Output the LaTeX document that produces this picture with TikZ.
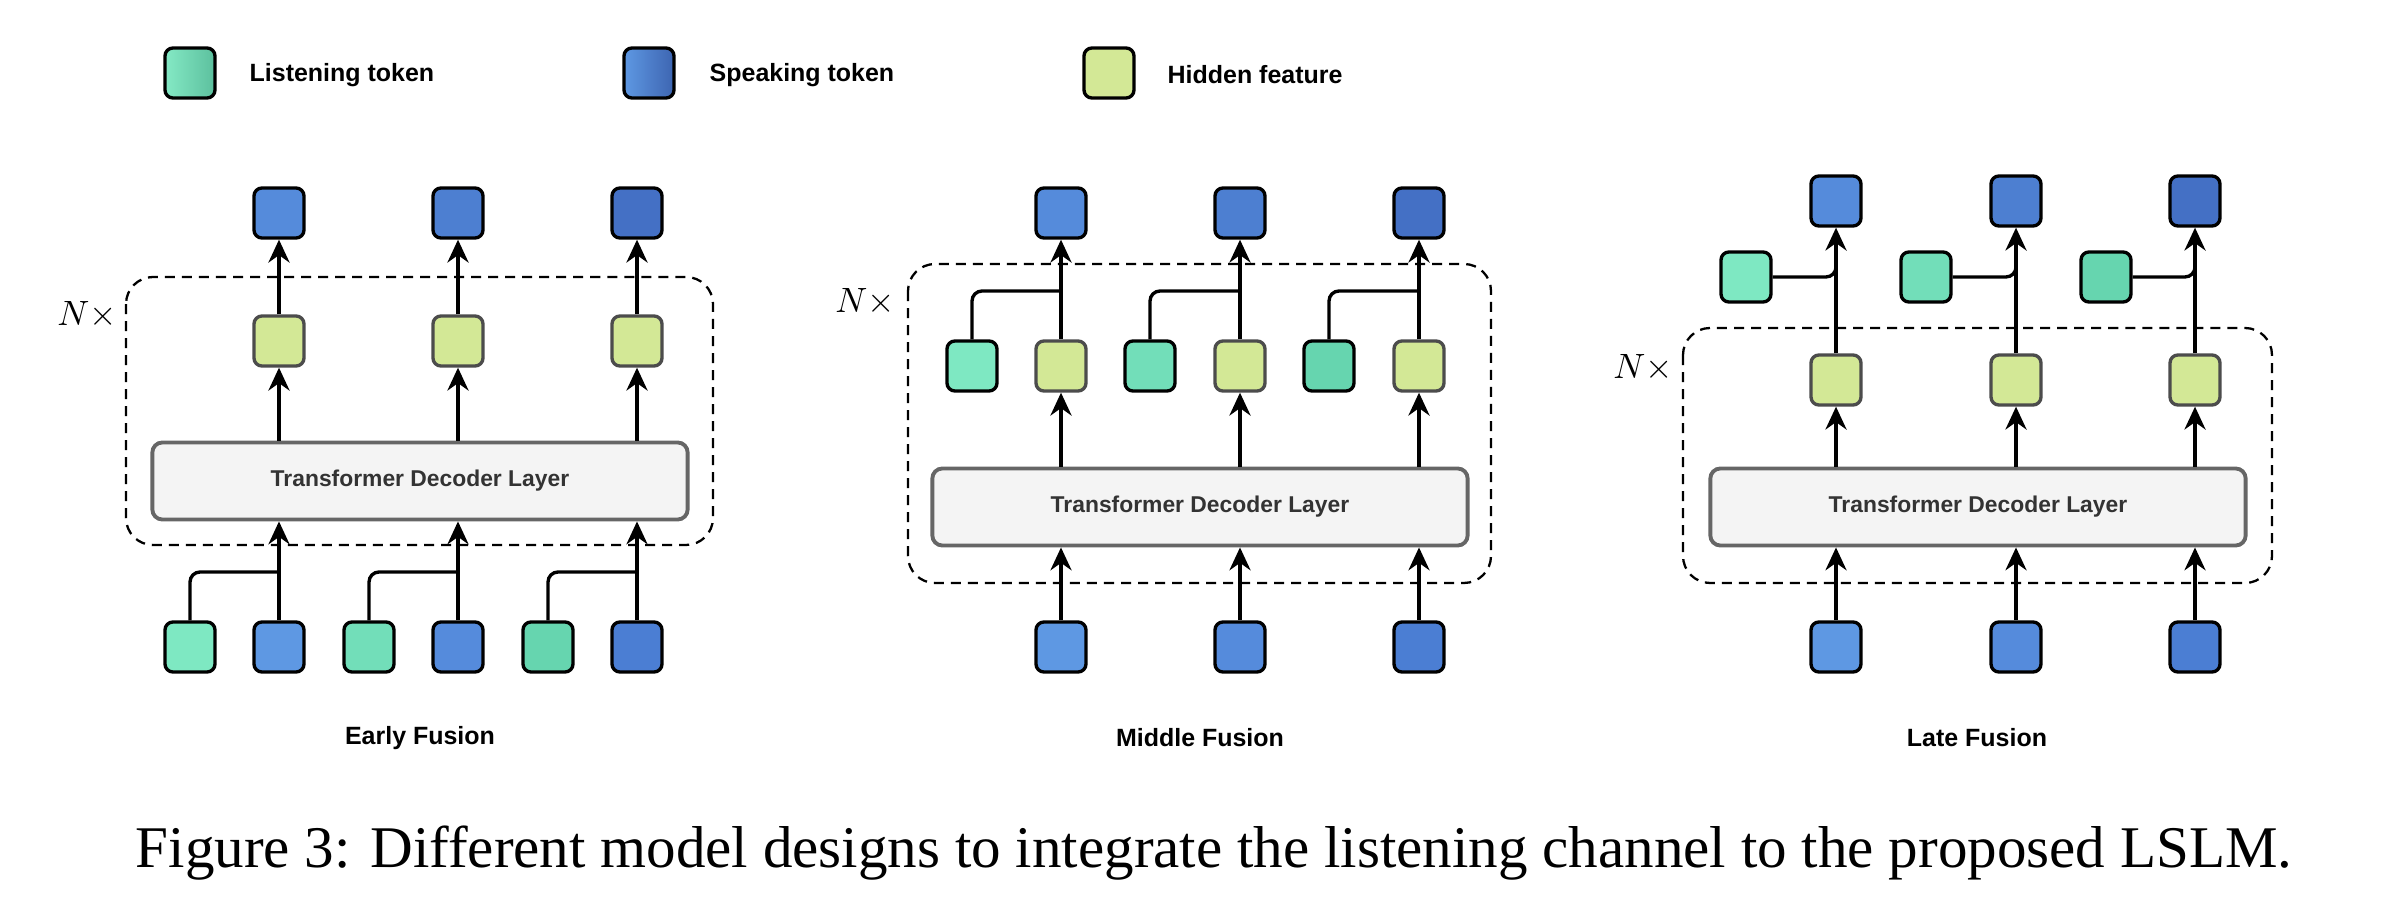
\documentclass[tikz,border=0pt]{standalone}
\usepackage{fontspec}
\setmainfont{Liberation Serif}
\setsansfont{Liberation Sans}
\usepackage{tikz}
\usetikzlibrary{arrows.meta}

\definecolor{listenA}{HTML}{7EE8C2}
\definecolor{listenB}{HTML}{72DEB9}
\definecolor{listenC}{HTML}{66D5AF}
\definecolor{speakA}{HTML}{5E98E3}
\definecolor{speakB}{HTML}{558BDC}
\definecolor{speakC}{HTML}{4B7ED3}
\definecolor{outA}{HTML}{558BDB}
\definecolor{outB}{HTML}{4D7FD1}
\definecolor{outC}{HTML}{4470C5}
\definecolor{hidden}{HTML}{D3E896}
\definecolor{layerfill}{HTML}{F4F4F4}
\definecolor{layerdraw}{HTML}{666666}

\begin{document}
\begin{tikzpicture}[x=0.01cm, y=-0.01cm,
    tok/.style={draw, line width=0.95pt, rounded corners=0.08cm, minimum width=0.5cm, minimum height=0.5cm, inner sep=0pt},
    hid/.style={tok, fill=hidden, draw=black!70},
    layer/.style={draw=layerdraw, fill=layerfill, line width=1.1pt, rounded corners=0.1cm, minimum width=5.35cm, minimum height=0.77cm, inner sep=0pt, text=black!80, font=\sffamily\bfseries\fontsize{6.5}{8}\selectfont},
    wire/.style={line width=0.95pt},
    arr/.style={wire, -{Stealth[length=6.5pt, width=6pt]}},
    rep/.style={dash pattern=on 0.1cm off 0.07cm, line width=0.65pt, rounded corners=0.27cm},
    lbl/.style={inner sep=0pt, font=\sffamily\bfseries\fontsize{7.1}{8}\selectfont},
    times/.style={font=\fontsize{10.4}{12}\selectfont}]

    \useasboundingbox (0,0) rectangle (2396,916);

    % legend
    \node[tok, left color=listenA!95!white, right color=listenC!90!black] (keyL) at (190,73) {};
    \node[lbl, anchor=west] (keyLtext) at (249,75) {Listening token};
    \node[tok, left color=speakA, right color=outC!90!black] (keyS) at (649,73) {};
    \node[lbl, anchor=west] (keyStext) at (709,75) {Speaking token};
    \node[tok, fill=hidden] (keyH) at (1109,73) {};
    \node[lbl, anchor=west] (keyHtext) at (1167,75) {Hidden feature};

    % early fusion
    \draw[rep] (126,277) rectangle (713,545);
    \node[times] (eN) at (87,315) {$N\times$};
    \node[tok, fill=outA] (eO1) at (279,213) {};
    \node[tok, fill=outB] (eO2) at (458,213) {};
    \node[tok, fill=outC] (eO3) at (637,213) {};
    \node[hid] (eH1) at (279,341) {};
    \node[hid] (eH2) at (458,341) {};
    \node[hid] (eH3) at (637,341) {};
    \node[layer] (eT) at (420,481) {Transformer Decoder Layer};
    \node[tok, fill=listenA] (eL1) at (190,647) {};
    \node[tok, fill=speakA] (eS1) at (279,647) {};
    \node[tok, fill=listenB] (eL2) at (369,647) {};
    \node[tok, fill=speakB] (eS2) at (458,647) {};
    \node[tok, fill=listenC] (eL3) at (548,647) {};
    \node[tok, fill=speakC] (eS3) at (637,647) {};
    \coordinate (eJ1) at (279,572);
    \coordinate (eJ2) at (458,572);
    \coordinate (eJ3) at (637,572);

    \draw[arr] (eS1.north) -- (eS1 |- eT.south);
    \draw[arr] (eS2.north) -- (eS2 |- eT.south);
    \draw[arr] (eS3.north) -- (eS3 |- eT.south);
    \draw[wire, rounded corners=0.1cm] (eL1.north) |- (eJ1);
    \draw[wire, rounded corners=0.1cm] (eL2.north) |- (eJ2);
    \draw[wire, rounded corners=0.1cm] (eL3.north) |- (eJ3);
    \draw[arr] (eH1 |- eT.north) -- (eH1.south);
    \draw[arr] (eH2 |- eT.north) -- (eH2.south);
    \draw[arr] (eH3 |- eT.north) -- (eH3.south);
    \draw[arr] (eH1.north) -- (eO1.south);
    \draw[arr] (eH2.north) -- (eO2.south);
    \draw[arr] (eH3.north) -- (eO3.south);
    \node[lbl] (eName) at (420,738) {Early Fusion};

    % middle fusion
    \draw[rep] (908,264) rectangle (1491,583);
    \node[times] (mN) at (865,302) {$N\times$};
    \node[tok, fill=outA] (mO1) at (1061,213) {};
    \node[tok, fill=outB] (mO2) at (1240,213) {};
    \node[tok, fill=outC] (mO3) at (1419,213) {};
    \node[tok, fill=listenA] (mL1) at (972,366) {};
    \node[hid] (mH1) at (1061,366) {};
    \node[tok, fill=listenB] (mL2) at (1150,366) {};
    \node[hid] (mH2) at (1240,366) {};
    \node[tok, fill=listenC] (mL3) at (1329,366) {};
    \node[hid] (mH3) at (1419,366) {};
    \node[layer] (mT) at (1200,507) {Transformer Decoder Layer};
    \node[tok, fill=speakA] (mS1) at (1061,647) {};
    \node[tok, fill=speakB] (mS2) at (1240,647) {};
    \node[tok, fill=speakC] (mS3) at (1419,647) {};
    \coordinate (mJ1) at (1061,291);
    \coordinate (mJ2) at (1240,291);
    \coordinate (mJ3) at (1419,291);

    \draw[arr] (mS1.north) -- (mS1 |- mT.south);
    \draw[arr] (mS2.north) -- (mS2 |- mT.south);
    \draw[arr] (mS3.north) -- (mS3 |- mT.south);
    \draw[arr] (mH1 |- mT.north) -- (mH1.south);
    \draw[arr] (mH2 |- mT.north) -- (mH2.south);
    \draw[arr] (mH3 |- mT.north) -- (mH3.south);
    \draw[wire, rounded corners=0.1cm] (mL1.north) |- (mJ1);
    \draw[wire, rounded corners=0.1cm] (mL2.north) |- (mJ2);
    \draw[wire, rounded corners=0.1cm] (mL3.north) |- (mJ3);
    \draw[arr] (mH1.north) -- (mO1.south);
    \draw[arr] (mH2.north) -- (mO2.south);
    \draw[arr] (mH3.north) -- (mO3.south);
    \node[lbl] (mName) at (1200,738) {Middle Fusion};

    % late fusion
    \draw[rep] (1683,328) rectangle (2272,583);
    \node[times] (lN) at (1643,368) {$N\times$};
    \node[tok, fill=outA] (lO1) at (1836,201) {};
    \node[tok, fill=outB] (lO2) at (2016,201) {};
    \node[tok, fill=outC] (lO3) at (2195,201) {};
    \node[tok, fill=listenA] (lL1) at (1746,277) {};
    \node[tok, fill=listenB] (lL2) at (1926,277) {};
    \node[tok, fill=listenC] (lL3) at (2106,277) {};
    \node[hid] (lH1) at (1836,380) {};
    \node[hid] (lH2) at (2016,380) {};
    \node[hid] (lH3) at (2195,380) {};
    \node[layer] (lT) at (1978,507) {Transformer Decoder Layer};
    \node[tok, fill=speakA] (lS1) at (1836,647) {};
    \node[tok, fill=speakB] (lS2) at (2016,647) {};
    \node[tok, fill=speakC] (lS3) at (2195,647) {};
    \coordinate (lJ1) at (1836,262);
    \coordinate (lJ2) at (2016,262);
    \coordinate (lJ3) at (2195,262);

    \draw[arr] (lS1.north) -- (lS1 |- lT.south);
    \draw[arr] (lS2.north) -- (lS2 |- lT.south);
    \draw[arr] (lS3.north) -- (lS3 |- lT.south);
    \draw[arr] (lH1 |- lT.north) -- (lH1.south);
    \draw[arr] (lH2 |- lT.north) -- (lH2.south);
    \draw[arr] (lH3 |- lT.north) -- (lH3.south);
    \draw[arr] (lH1.north) -- (lO1.south);
    \draw[arr] (lH2.north) -- (lO2.south);
    \draw[arr] (lH3.north) -- (lO3.south);
    \draw[wire, rounded corners=0.1cm] (lL1.east) -| (lJ1);
    \draw[wire, rounded corners=0.1cm] (lL2.east) -| (lJ2);
    \draw[wire, rounded corners=0.1cm] (lL3.east) -| (lJ3);
    \node[lbl] (lName) at (1977,738) {Late Fusion};

    \node[anchor=base, inner sep=0pt, font=\fontsize{16.8}{20}\selectfont] (caption) at (1214,868)
        {Figure 3: Different model designs to integrate the listening channel to the proposed LSLM.};

\end{tikzpicture}
\end{document}
